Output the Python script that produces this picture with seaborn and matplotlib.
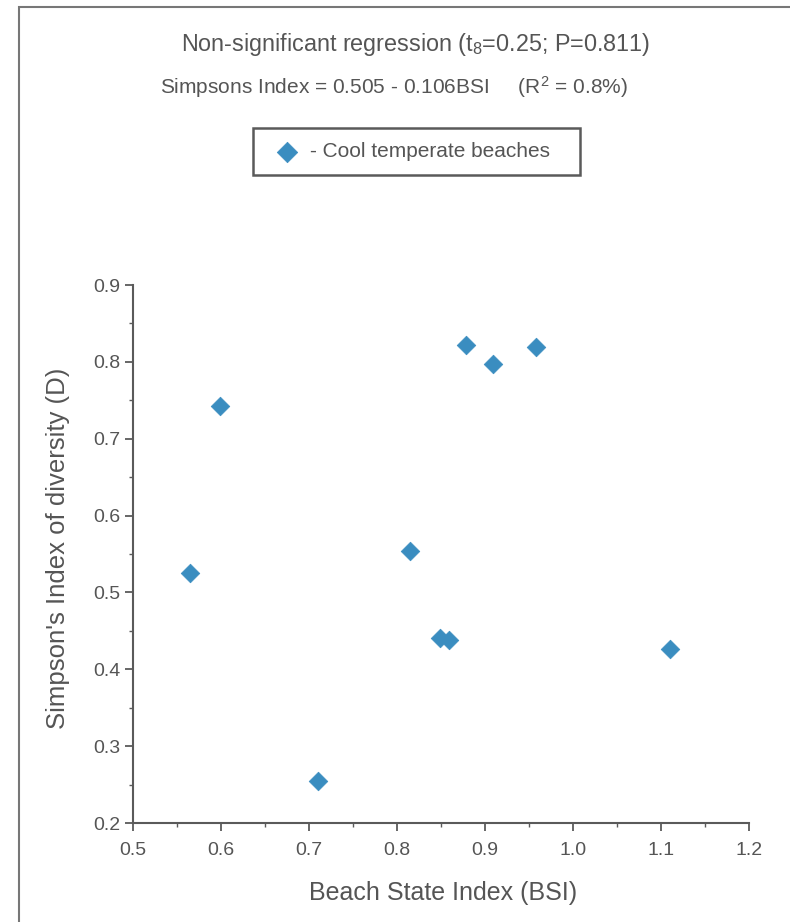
import matplotlib
matplotlib.use("Agg")
import matplotlib.pyplot as plt
import seaborn as sns
import pandas as pd
from matplotlib.ticker import MultipleLocator, FormatStrFormatter
from matplotlib.patches import Rectangle

# Data
bsi = [0.565, 0.599, 0.710, 0.815, 0.849, 0.859, 0.878, 0.909, 0.958, 1.110]
simpson_d = [0.525, 0.742, 0.255, 0.554, 0.441, 0.438, 0.822, 0.797, 0.819, 0.426]
series_label = "- Cool temperate beaches"
x_ticks = [0.5, 0.6, 0.7, 0.8, 0.9, 1.0, 1.1, 1.2]
y_ticks = [0.2, 0.3, 0.4, 0.5, 0.6, 0.7, 0.8, 0.9]

df = pd.DataFrame({"BSI": bsi, "D": simpson_d})

sns.set_theme(style="white")
plt.rcParams["font.family"] = ["Liberation Sans", "DejaVu Sans"]
plt.rcParams["mathtext.fontset"] = "custom"
plt.rcParams["mathtext.rm"] = "Liberation Sans"
plt.rcParams["mathtext.it"] = "Liberation Sans:italic"

text_col = "#555555"
axis_col = "#5a5a5a"
marker_col = "#3a8dc0"

W, H = 790, 922
fig = plt.figure(figsize=(7.9, 9.22), dpi=100)
fig.patch.set_facecolor("white")
ax = fig.add_axes([133 / W, 1 - 823 / H, (749 - 133) / W, (823 - 285) / H])

sns.scatterplot(data=df, x="BSI", y="D", marker="D", s=90, color=marker_col,
                edgecolor=marker_col, linewidth=0.5, ax=ax, label=series_label,
                legend=False, zorder=3)

ax.set_xlim(0.5, 1.2)
ax.set_ylim(0.2, 0.9)
ax.set_xticks(x_ticks)
ax.set_yticks(y_ticks)
ax.xaxis.set_major_formatter(FormatStrFormatter("%.1f"))
ax.yaxis.set_major_formatter(FormatStrFormatter("%.1f"))
ax.xaxis.set_minor_locator(MultipleLocator(0.05))
ax.yaxis.set_minor_locator(MultipleLocator(0.05))

for s in ["top", "right"]:
    ax.spines[s].set_visible(False)
for s in ["left", "bottom"]:
    ax.spines[s].set_color(axis_col)
    ax.spines[s].set_linewidth(1.5)

ax.tick_params(which="major", direction="out", length=6, width=1.3, color=axis_col,
               labelsize=14, labelcolor=text_col, bottom=True, left=True)
ax.tick_params(axis="x", which="major", pad=8)
ax.tick_params(axis="y", which="major", pad=3)
ax.tick_params(which="minor", direction="out", length=3, width=1.0, color=axis_col,
               bottom=True, left=True)

ax.set_xlabel("Beach State Index (BSI)", fontsize=18, color=text_col)
ax.set_ylabel("Simpson's Index of diversity (D)", fontsize=18.5, color=text_col)
ax.xaxis.set_label_coords((443 - 133) / 616, (823 - 881) / 538)
ax.yaxis.set_label_coords((70 - 133) / 616, (823 - 548) / 538)

fig.text(415.5 / W, 1 - 45 / H,
         r"Non-significant regression (t$\mathregular{_8}$=0.25; P=0.811)",
         ha="center", va="center", fontsize=16.8, color=text_col)
fig.text(393.5 / W, 1 - 87 / H,
         r"Simpsons Index = 0.505 - 0.106BSI     (R$\mathregular{^2}$ = 0.8%)",
         ha="center", va="center", fontsize=15, color=text_col)

handles, labels = ax.get_legend_handles_labels()
leg = fig.legend(handles, labels, loc="center left",
                 bbox_to_anchor=(276 / W, 1 - 151.5 / H),
                 frameon=False, fontsize=15, handletextpad=0.55,
                 borderpad=0, handlelength=1.1, borderaxespad=0, markerscale=1.1)
for t in leg.get_texts():
    t.set_color(text_col)

# legend box
fig.patches.append(Rectangle((253 / W, 1 - 175 / H), (580 - 253) / W, (175 - 128) / H,
                             transform=fig.transFigure, fill=False,
                             edgecolor="#5a5a5a", linewidth=1.8))

# outer frame
fig.patches.append(Rectangle((19 / W, -0.05), 1.2, 1 - 7 / H + 0.05,
                             transform=fig.transFigure, fill=False,
                             edgecolor="#777777", linewidth=1.5))

fig.savefig("out.png", dpi=100, facecolor="white")
